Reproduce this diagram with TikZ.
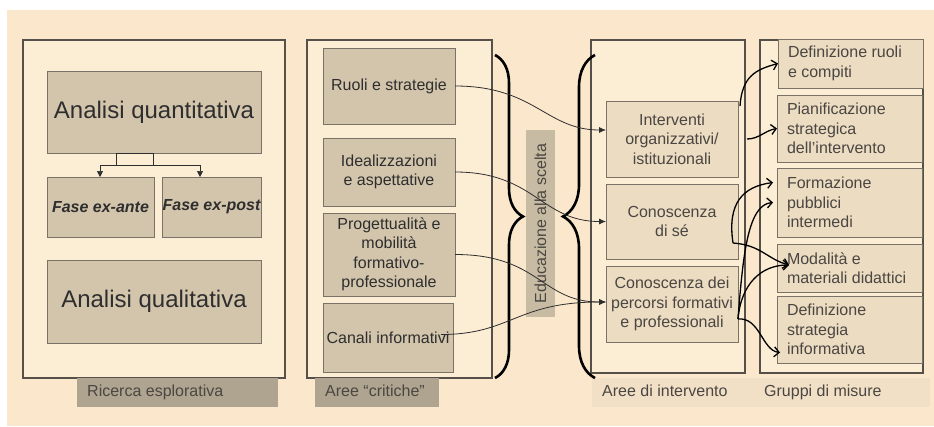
\documentclass[tikz,border=0pt]{standalone}
\usepackage{fontspec}
\setmainfont{Liberation Sans}
\usepackage{tikz}
\usetikzlibrary{arrows.meta,calc,decorations.pathreplacing}

\definecolor{bgcream}{HTML}{FBE8CC}
\definecolor{panelfill}{HTML}{FCEDD5}
\definecolor{framegray}{HTML}{55504A}
\definecolor{boxtan}{HTML}{D3C5AC}
\definecolor{boxlight}{HTML}{ECDCC2}
\definecolor{boxedge}{HTML}{7A7266}
\definecolor{tagdark}{HTML}{AFA48F}
\definecolor{taglight}{HTML}{F1E0C6}
\definecolor{sidetan}{HTML}{C8BBA3}
\definecolor{inkgray}{HTML}{2E2E2E}
\definecolor{softink}{HTML}{4A4642}

\newcommand{\txt}{\fontsize{16}{19.5}\selectfont}
\newcommand{\bigtxt}{\fontsize{24}{28}\selectfont}

\begin{document}
\begin{tikzpicture}[x=1pt, y=-1pt,
  panel/.style = {draw = framegray, line width = 2pt, fill = panelfill, anchor = north west, inner sep = 0pt, outer sep = 0pt},
  tanbox/.style = {draw = boxedge, line width = 0.8pt, fill = boxtan, anchor = north west, inner sep = 0pt, outer sep = 0pt, align = center, text = inkgray, font = \txt},
  areabox/.style = {tanbox, fill = boxlight, text = softink},
  measbox/.style = {areabox, align = flush left, inner xsep = 10pt, text width = 125pt},
  tag/.style = {fill = tagdark, anchor = north west, minimum height = 29pt, inner xsep = 10pt, inner ysep = 0pt, text height = 12pt, text depth = 3.5pt, align = flush left, text = softink, font = \txt},
  softtag/.style = {tag, fill = taglight},
  fork/.style = {draw = inkgray, line width = 0.7pt},
  thinlink/.style = {draw = inkgray, line width = 0.8pt, -{Latex[length = 7pt, width = 6pt]}},
  boldlink/.style = {draw = black, line width = 1.3pt, -{Straight Barb[length = 5pt, width = 10pt]}},
  bracket/.style = {draw = black, line width = 2.6pt}
]
\useasboundingbox (0,0) rectangle (934,426);
\fill[white] (0,0) rectangle (934,426);
\fill[bgcream] (7,10) rectangle (934,426);

\node[panel, minimum width = 262pt, minimum height = 338pt] (p1) at (23,40) {};
\node[panel, minimum width = 185pt, minimum height = 338pt] (p2) at (307,40) {};
\node[panel, minimum width = 154pt, minimum height = 333pt] (p3) at (591,40) {};
\node[panel, minimum width = 163pt, minimum height = 333pt] (p4) at (760,40) {};

\node[tag, text width = 181pt] (t1) at (77,378) {Ricerca esplorativa};
\node[tag, text width = 104pt] (t2) at (315,378) {Aree “critiche”};
\node[softtag, text width = 140pt] (t3) at (592,378) {Aree di intervento};
\node[softtag, inner xsep = 12pt, text width = 154pt] (t4) at (752,378) {Gruppi di misure};

\node[tanbox, minimum width = 214pt, minimum height = 82pt, font = \bigtxt] (aq) at (47,71) {Analisi quantitativa};
\node[tanbox, minimum width = 107pt, minimum height = 60pt, font = \txt\bfseries\itshape] (exa) at (47,177) {Fase ex-ante};
\node[tanbox, minimum width = 99pt, minimum height = 60pt, font = \txt\bfseries\itshape] (exp) at (162,177) {Fase ex-post};
\node[tanbox, minimum width = 214pt, minimum height = 83pt, font = \bigtxt] (aql) at (47,260) {Analisi qualitativa};

\node[tanbox, minimum width = 132pt, minimum height = 76pt] (ruo) at (323,48) {Ruoli e strategie};
\node[tanbox, minimum width = 132pt, minimum height = 68pt] (ide) at (323,138) {Idealizzazioni\\e aspettative};
\node[tanbox, minimum width = 132pt, minimum height = 83pt] (pro) at (323,213) {Progettualità e\\mobilità\\formativo-\\professionale};
\node[tanbox, minimum width = 130pt, minimum height = 69pt] (can) at (323,303) {Canali informativi};

\node[areabox, minimum width = 132pt, minimum height = 76pt] (int) at (606,101) {Interventi\\organizzativi/\\istituzionali};
\node[areabox, minimum width = 132pt, minimum height = 75pt] (cse) at (606,184) {Conoscenza\\di sé};
\node[areabox, minimum width = 132pt, minimum height = 76pt] (cdp) at (606,266) {Conoscenza dei\\percorsi formativi\\e professionali};

\node[measbox, minimum width = 145pt, minimum height = 49pt] (dru) at (778,39) {Definizione ruoli\\e compiti};
\node[measbox, minimum height = 67pt] (pia) at (777,95) {Pianificazione\\strategica\\dell’intervento};
\node[measbox, minimum height = 69pt] (fpi) at (777,168) {Formazione\\pubblici\\intermedi};
\node[measbox, minimum height = 48pt] (mod) at (777,244) {Modalità e\\materiali didattici};
\node[measbox, minimum height = 67pt] (dst) at (777,296) {Definizione\\strategia\\informativa};

\node[fill = sidetan, rotate = 90, minimum width = 187pt, minimum height = 29pt, inner sep = 0pt, text = softink, font = \txt] (edu) at (540.5,223.5) {Educazione alla scelta};

\draw[bracket, decorate, decoration = {brace, amplitude = 28pt}] (495,55) -- (495,378);
\draw[bracket, decorate, decoration = {brace, amplitude = 32pt}] (595,378) -- (595,55);

\coordinate (fk) at ($(aq.south)+(0,12)$);
\coordinate (fl) at ($(fk)+(-54,0)$);
\coordinate (fr) at ($(fk)+(46,0)$);
\draw[fork] ([xshift = -38pt]aq.south) rectangle ([xshift = -1pt]fk);
\draw[fork, {Triangle[length = 6pt, width = 6pt]}-{Triangle[length = 6pt, width = 6pt]}] (exa.north -| fl) -- (fl) -- (fr) -- (exp.north -| fr);

\draw[thinlink] (ruo.east) .. controls +(80,0) and +(-60,0) .. ($(int.west)+(0,-9)$);
\draw[thinlink] (ide.east) .. controls +(80,0) and +(-65,0) .. (cse.west);
\draw[thinlink] (pro.east) .. controls +(85,0) and +(-65,0) .. ($(cdp.west)+(0,-2)$);
\draw[thinlink] ($(can.east)+(-12,-3)$) .. controls +(70,0) and +(-90,0) .. ($(cdp.west)+(0,-2)$);

\coordinate (cs) at ($(cse.south east)+(-5,-16)$);
\coordinate (cp) at ($(cdp.east)+(0,15)$);
\draw[boldlink] ($(int.north east)+(2,5)$) .. controls +(2,-30) and +(-22,6) .. (dru.west);
\draw[boldlink] ($(int.east)+(9,0)$) .. controls +(12,0) and +(-12,2) .. (pia.west);
\draw[boldlink] (cs) .. controls +(-6,-40) and +(-30,4) .. ($(fpi.west)+(-4,-20)$);
\draw[boldlink] (cs) .. controls +(28,2) and +(-22,-6) .. ($(mod.west)+(12,-3)$);
\draw[boldlink] (cp) .. controls +(5,-65) and +(-25,2) .. ($(fpi.west)+(-4,0)$);
\draw[boldlink] (cp) .. controls +(3,-35) and +(-28,0) .. ($(mod.west)+(12,-3)$);
\draw[boldlink] (cp) .. controls +(22,-2) and +(-18,-2) .. ($(dst.west)+(3,23)$);
\end{tikzpicture}
\end{document}
